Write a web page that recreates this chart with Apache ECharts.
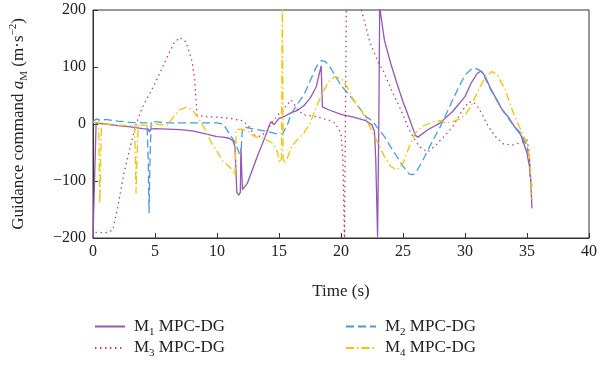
<!DOCTYPE html>
<html><head><meta charset="utf-8">
<script src="https://cdn.jsdelivr.net/npm/echarts@6/dist/echarts.min.js"></script>
<style>html,body{margin:0;padding:0;background:#fff}#c{width:600px;height:365px}</style>
</head><body><div id="c"></div>
<script>
// Time axis ticks and value axis ticks
const xMin = 0, xMax = 40, xStep = 5;
const yMin = -200, yMax = 200, yStep = 100;
const seriesNames = ['M1', 'M2', 'M3', 'M4'];
const seriesSub = { M1: '1', M2: '2', M3: '3', M4: '4' };

// [time (s), guidance command (m/s^2)]
const m1 = [[0,-200],[0.25,2],[1,0],[2,-3],[3,-5],[4,-8],[4.45,-9],[4.55,-14],[4.65,-9],[5,-8],[6,-9],[7,-10],[8,-12],[9,-17],[10,-22],[10.5,-23],[11,-25],[11.3,-30],[11.45,-40],[11.6,-120],[11.75,-125],[11.88,-120],[11.93,-42],[12.0,-42],[12.05,-115],[12.2,-118],[12.45,-104],[13.25,-57],[14,-16],[14.2,-3],[14.35,4],[14.5,4],[14.6,-1],[14.75,3],[15,10],[15.5,14],[16,20],[16.5,24],[17,32],[17.5,45],[18,65],[18.4,102],[18.5,30],[19,25],[20,17],[21,12],[22,6],[22.5,-2],[22.7,-13],[22.8,-60],[22.95,-198],[23.05,0],[23.12,205],[23.5,147],[24,107],[24.5,72],[25,39],[25.5,10],[26,-20],[26.2,-23],[27,-10],[28,2],[29,22],[30,48],[30.5,72],[31,89],[31.3,93],[31.6,85],[32,65],[32.5,45],[33,25],[33.5,12],[34,-5],[34.5,-19],[35,-51],[35.2,-75],[35.3,-100],[35.4,-148]];
const m2 = [[0,5],[0.3,9],[0.6,6],[1,8],[2,5],[3,3],[4,2],[4.35,2],[4.45,-60],[4.52,-156],[4.6,-60],[4.7,5],[5,4],[6,2],[7,2],[8,2],[9,2],[10,2],[10.5,0],[11,-17],[11.5,-34],[11.8,-52],[11.95,-45],[12.05,-8],[12.3,-6],[13,-9],[14,-13],[15,-18],[15.3,-17],[15.7,0],[16,19],[16.5,35],[17,51],[17.5,75],[18,100],[18.4,111],[18.7,110],[19,104],[19.5,86],[20,68],[20.5,55],[21,42],[21.5,28],[22,13],[22.5,6],[23,-8],[23.5,-22],[24,-40],[24.5,-57],[25,-74],[25.5,-88],[25.8,-89],[26,-86],[26.5,-68],[27,-46],[27.5,-25],[28,-5],[28.5,18],[29,42],[29.5,65],[30,86],[30.5,96],[30.8,98],[31.2,94],[31.5,86],[32,63],[32.5,44],[33,25],[33.5,10],[34,-5],[34.5,-16],[35,-40],[35.2,-65],[35.3,-98],[35.4,-110]];
const m3 = [[0.2,-190],[1,-191],[1.6,-186],[2,-145],[2.5,-86],[3,-40],[3.5,1],[4,30],[5,71],[6,118],[6.5,141],[7,152],[7.5,144],[8,109],[8.2,77],[8.4,16],[9,13],[10,12],[11,10],[11.5,8],[12,6],[12.5,-2],[13,-19],[13.5,-22],[14,-13],[14.5,4],[15,18],[15.5,30],[16,42],[16.5,25],[17,16],[18,13],[19,7],[19.5,2],[20,-16],[20.15,-60],[20.28,-205],[20.38,-205],[20.45,260],[21.5,230],[21.65,200],[22.32,144],[22.99,109],[23.39,94],[23.79,74],[24.19,54],[24.72,30],[25,16],[25.39,-5],[25.79,-22],[26.32,-40],[27,-49],[27.65,-37],[28.3,-22],[29,-5],[29.65,19],[30.3,39],[30.7,38],[31.1,28],[31.4,16],[31.9,-5],[32.45,-22],[33.1,-35],[33.8,-37],[34.45,-33],[35,-28],[35.15,-45],[35.3,-100],[35.4,-95]];
const m4 = [[0,3],[0.45,3],[0.5,-60],[0.55,-140],[0.62,-60],[0.7,3],[1,0],[2,-2],[3,-3],[3.35,-3],[3.42,-60],[3.47,-122],[3.55,-60],[3.65,-1],[4,-2],[4.5,-4],[5,0],[6,-2],[6.5,13],[7,25],[7.5,29],[8,25],[8.5,10],[9,-8],[9.5,-31],[10,-48],[10.5,-66],[11,-75],[11.3,-84],[11.45,-90],[11.55,-10],[12,-9],[12.5,-13],[13,-22],[13.5,-24],[14,-28],[14.5,-34],[14.85,-48],[15.05,-68],[15.2,-60],[15.27,240],[15.33,-60],[15.45,-70],[15.7,-58],[16,-40],[16.5,-27],[17,-16],[17.5,1],[18,30],[18.5,54],[19,74],[19.5,83],[20,80],[20.5,65],[21,42],[21.5,28],[22,10],[22.5,-13],[23,-34],[23.5,-57],[24,-74],[24.5,-81],[25,-69],[25.5,-40],[26,-16],[26.5,-5],[27,0],[27.5,4],[28,6],[28.5,2],[29,4],[29.5,8],[30,16],[30.45,30],[31.1,60],[31.65,83],[32.2,92],[32.6,86],[33.25,60],[33.9,19],[34.45,-8],[35,-34],[35.2,-60],[35.4,-133]];

const dataMap = { M1: m1, M2: m2, M3: m3, M4: m4 };
const colors = { M1: '#9358b8', M2: '#449de2', M3: '#d7325a', M4: '#f6c400' };
const dashes = { M1: 'solid', M2: [8, 4], M3: [1.4, 3.6], M4: [8, 3, 1.5, 3] };

const FONT = '"Liberation Serif", "DejaVu Serif", serif';
const chart = echarts.init(document.getElementById('c'), null, { renderer: 'canvas' });

const legendRich = {
  m: { fontFamily: FONT, fontSize: 17, color: '#222', lineHeight: 22 },
  s: { fontFamily: FONT, fontSize: 11, color: '#222', lineHeight: 11, verticalAlign: 'bottom' }
};
function legendFmt(name) {
  return '{m|M}{s|' + seriesSub[name] + '}{m| MPC-DG}';
}
const legendBase = {
  orient: 'vertical', top: 313, itemWidth: 30, itemHeight: 14, itemGap: 2,
  formatter: legendFmt, textStyle: { fontFamily: FONT, fontSize: 17, color: '#222', rich: legendRich, padding: [0, 0, 0, 4] },
  itemStyle: { opacity: 0 },
  selectedMode: false
};

chart.setOption({
  animation: false,
  backgroundColor: '#fff',
  grid: { left: 91, right: 9, top: 10, bottom: 127, show: true, borderColor: '#333', borderWidth: 1, backgroundColor: 'transparent' },
  legend: [
    Object.assign({}, legendBase, { data: ['M1', 'M3'], left: 89 }),
    Object.assign({}, legendBase, { data: ['M2', 'M4'], left: 340 })
  ],
  xAxis: {
    type: 'value', min: xMin, max: xMax, interval: xStep,
    name: 'Time (s)', nameLocation: 'middle', nameGap: 45,
    nameTextStyle: { fontFamily: FONT, fontSize: 17, color: '#222' },
    axisLine: { onZero: false, lineStyle: { color: '#333', width: 1 } },
    axisTick: { inside: true, length: 5, lineStyle: { color: '#333' } },
    axisLabel: { fontFamily: FONT, fontSize: 16, color: '#222', margin: 6 },
    splitLine: { show: false }
  },
  yAxis: {
    type: 'value', min: yMin, max: yMax, interval: yStep,
    name: '{n|Guidance command }{i|a}{sub|M}{n| (m·s}{sup|−2}{n|)}',
    nameLocation: 'middle', nameGap: 63, nameRotate: 90,
    nameTextStyle: {
      fontFamily: FONT, fontSize: 17, color: '#222',
      rich: {
        n: { fontFamily: FONT, fontSize: 17, color: '#222', lineHeight: 22 },
        i: { fontFamily: FONT, fontSize: 17, fontStyle: 'italic', color: '#222', lineHeight: 22 },
        sub: { fontFamily: FONT, fontSize: 11, color: '#222', lineHeight: 11, verticalAlign: 'bottom' },
        sup: { fontFamily: FONT, fontSize: 11, color: '#222', lineHeight: 11, verticalAlign: 'top' }
      }
    },
    axisLine: { show: true, lineStyle: { color: '#333', width: 1 } },
    axisTick: { show: true, inside: true, length: 5, lineStyle: { color: '#333' } },
    axisLabel: {
      fontFamily: FONT, fontSize: 16, color: '#222', margin: 7,
      formatter: v => (v < 0 ? '−' + Math.abs(v) : String(v))
    },
    splitLine: { show: false }
  },
  series: seriesNames.map(n => ({
    name: n, type: 'line', data: dataMap[n], symbol: 'none', showSymbol: false,
    clip: true, smooth: false,
    lineStyle: { color: colors[n], width: 1.3, type: dashes[n] },
    itemStyle: { color: colors[n] }
  }))
});
</script>
</body></html>
